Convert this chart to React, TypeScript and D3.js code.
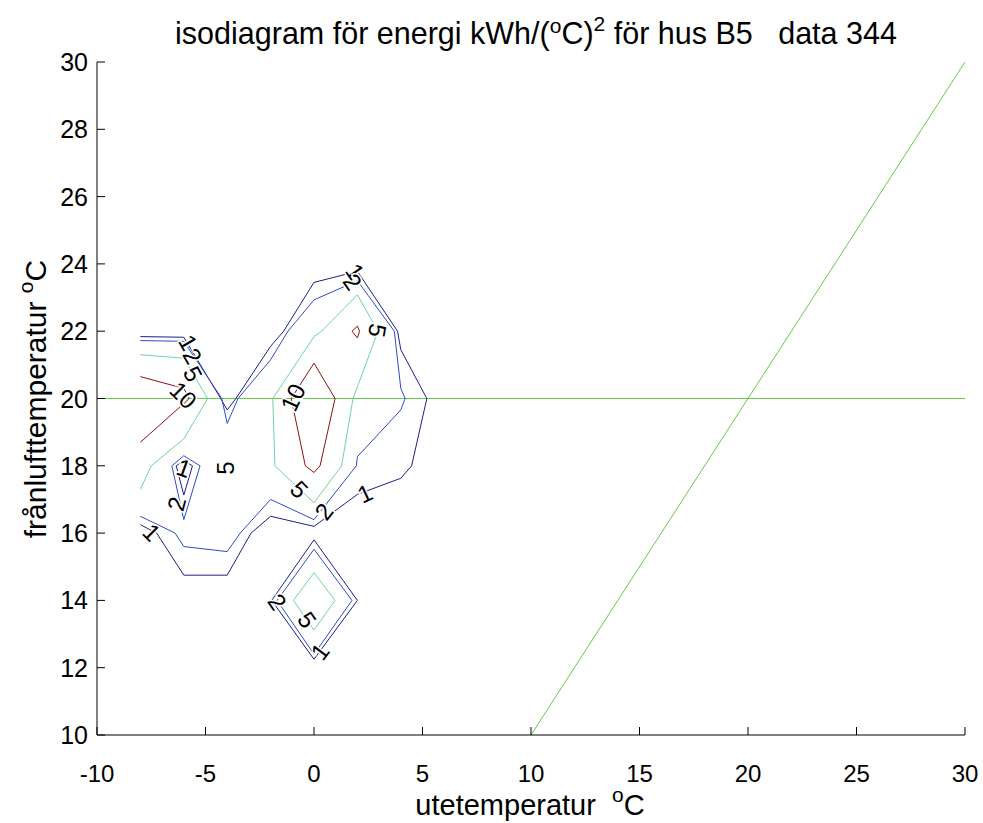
import React from "react";
import * as d3 from "d3";

const W = 983;
const H = 823;

type P = [number, number];

const xTicks = [-10, -5, 0, 5, 10, 15, 20, 25, 30];
const yTicks = [10, 12, 14, 16, 18, 20, 22, 24, 26, 28, 30];

const levels = [1, 2, 5, 10];
const levelColors = ["#1e1e88", "#2c4cc4", "#6fd3a0", "#8c1010"];

// level 1 contours
const level1Main: P[] = [
  [-8, 21.84], [-6, 21.82], [-4.3, 20], [-4, 19.66], [-3.6, 20], [-2, 21.55], [-1.4, 22],
  [0, 23.45], [2, 23.78], [3.85, 22], [4, 21.45], [5.2, 20], [4.5, 18], [4, 17.63],
  [2, 17.15], [0, 16.2], [-2, 16.5], [-2.9, 16], [-4, 14.75], [-6, 14.75], [-7.25, 16], [-8, 16.25],
];
const level1SmallLeft: P[] = [[-6, 18.15], [-5.6, 18], [-6, 17.13], [-6.35, 18], [-6, 18.15]];
const level1Bottom: P[] = [[0, 15.8], [2, 14], [0, 12.25], [-1.95, 14], [0, 15.8]];

// level 2 contours
const level2Main: P[] = [
  [-8, 21.72], [-6, 21.7], [-4.25, 20], [-4, 19.26], [-3.5, 20], [-2, 21.15], [-1.2, 22],
  [0, 22.93], [2, 23.5], [3.7, 22], [4, 20.3], [4.2, 20], [4, 19.66], [2, 18.27], [1.95, 18],
  [0, 16.4], [-2, 17], [-3.4, 16], [-4, 15.45], [-6, 15.6], [-6.4, 16], [-8, 16.5],
];
const level2SmallLeft: P[] = [[-6, 18.3], [-5.25, 18], [-6, 16.4], [-6.55, 18], [-6, 18.3]];
const level2Bottom: P[] = [[0, 15.52], [1.75, 14], [0, 12.4], [-1.7, 14], [0, 15.52]];

// level 5 contours
const level5Left: P[] = [[-8, 21.3], [-6, 21.2], [-4.9, 20], [-6, 18.8], [-7.5, 18], [-8, 17.3]];
const level5Center: P[] = [
  [-1.9, 20], [0, 21.84], [0.35, 22], [2, 23.08], [2.95, 22], [2, 20.35], [1.8, 20],
  [1.27, 18], [0, 16.9], [-1.8, 18], [-1.9, 20],
];
const level5Tiny: P[] = [[-3.95, 17.8], [-3.75, 17.95]];
const level5Bottom: P[] = [[0, 14.82], [0.97, 14], [0, 13.12], [-0.95, 14], [0, 14.82]];

// level 10 contours
const level10Left: P[] = [[-8, 20.65], [-6, 20.3], [-5.75, 20], [-6, 19.85], [-8, 18.7]];
const level10Center: P[] = [[0, 21.05], [-1.05, 20], [-0.4, 18], [0, 17.8], [0.28, 18], [0.97, 20], [0, 21.05]];
const level10Small: P[] = [[1.75, 22], [2, 22.15], [2.1, 22], [2, 21.8], [1.75, 22]];

const contourLines: { level: number; pts: P[] }[] = [
  { level: 1, pts: level1Main },
  { level: 1, pts: level1SmallLeft },
  { level: 1, pts: level1Bottom },
  { level: 2, pts: level2Main },
  { level: 2, pts: level2SmallLeft },
  { level: 2, pts: level2Bottom },
  { level: 5, pts: level5Left },
  { level: 5, pts: level5Center },
  { level: 5, pts: level5Tiny },
  { level: 5, pts: level5Bottom },
  { level: 10, pts: level10Left },
  { level: 10, pts: level10Center },
  { level: 10, pts: level10Small },
];

// contour labels: text, data x, data y, rotation (deg)
const labelTexts = ["1", "2", "5", "10", "1", "2", "5", "10", "5", "2", "1", "1", "1", "2", "5", "2", "5", "1"];
const labelX = [-5.8, -5.6, -5.58, -6.02, 1.89, 1.78, 2.92, -0.97, -0.68, 0.46, 2.35, -7.48, -5.99, -6.33, -4.1, -1.69, -0.32, 0.28];
const labelY = [21.66, 21.26, 20.73, 20.1, 23.77, 23.47, 22.02, 20.03, 17.3, 16.64, 17.18, 16.02, 17.93, 16.87, 17.93, 13.96, 13.42, 12.48];
const labelRot = [60, 60, 62, 45, 55, 55, 100, -65, 45, -52, -25, 45, 20, -75, -90, 55, 55, -53];

const refHorizontal: P[] = [[-10, 20], [30, 20]];
const refDiagonal: P[] = [[10, 10], [30, 30]];

const FONT = "'Liberation Sans', Arial, Helvetica, sans-serif";

export default function App() {
  const x = d3.scaleLinear().domain([-10, 30]).range([97, 965]);
  const y = d3.scaleLinear().domain([10, 30]).range([735, 62]);
  const line = d3.line<P>().x((d) => x(d[0])).y((d) => y(d[1]));
  const colorOf = (lv: number) => levelColors[levels.indexOf(lv)];
  const tickLen = 8;

  return (
    <svg
      width={W}
      height={H}
      style={{ position: "fixed", left: 0, top: 0, background: "#fff" }}
      fontFamily={FONT}
    >
      <rect x={0} y={0} width={W} height={H} fill="#fff" />
      {/* reference lines */}
      <path d={line(refHorizontal) || ""} stroke="#66c84a" strokeWidth={1} fill="none" />
      <path d={line(refDiagonal) || ""} stroke="#66c84a" strokeWidth={1} fill="none" />
      {/* contours */}
      {contourLines.map((c, i) => (
        <path key={i} d={line(c.pts) || ""} stroke={colorOf(c.level)} strokeWidth={1} fill="none" strokeLinejoin="miter" />
      ))}
      {/* contour labels */}
      {labelTexts.map((t, i) => (
        <text
          key={i}
          transform={`translate(${x(labelX[i])},${y(labelY[i])}) rotate(${labelRot[i]})`}
          textAnchor="middle"
          dominantBaseline="central"
          fontSize={24}
          fill="#000"
          stroke="#fff"
          strokeWidth={3}
          paintOrder="stroke"
        >
          {t}
        </text>
      ))}
      {/* axes */}
      <line x1={97} y1={735} x2={965} y2={735} stroke="#000" strokeWidth={1} />
      <line x1={97} y1={62} x2={97} y2={735} stroke="#000" strokeWidth={1} />
      {xTicks.map((t) => (
        <g key={"x" + t}>
          <line x1={x(t)} x2={x(t)} y1={735} y2={735 - tickLen} stroke="#000" strokeWidth={1} />
          <text x={x(t)} y={782} textAnchor="middle" fontSize={24} fill="#000">
            {t}
          </text>
        </g>
      ))}
      {yTicks.map((t) => (
        <g key={"y" + t}>
          <line x1={97} x2={97 + tickLen} y1={y(t)} y2={y(t)} stroke="#000" strokeWidth={1} />
          <text x={88} y={y(t) + 9} textAnchor="end" fontSize={25} fill="#000">
            {t}
          </text>
        </g>
      ))}
      {/* title */}
      <text x={536} y={44} textAnchor="middle" fontSize={30.5} fill="#000" style={{ whiteSpace: "pre" }}>
        isodiagram för energi kWh/(
        <tspan dy={-11} fontSize={21}>o</tspan>
        <tspan dy={11}>C)</tspan>
        <tspan dy={-13} fontSize={21}>2</tspan>
        <tspan dy={13}>{" för hus B5   data 344"}</tspan>
      </text>
      {/* x label */}
      <text x={530} y={815} textAnchor="middle" fontSize={29} fill="#000" style={{ whiteSpace: "pre" }}>
        {"utetemperatur  "}
        <tspan dy={-13} fontSize={21}>o</tspan>
        <tspan dy={13}>C</tspan>
      </text>
      {/* y label */}
      <text transform="translate(46,399) rotate(-90)" textAnchor="middle" fontSize={30} fill="#000" style={{ whiteSpace: "pre" }}>
        {"frånlufttemperatur "}
        <tspan dy={-13} fontSize={21}>o</tspan>
        <tspan dy={13}>C</tspan>
      </text>
    </svg>
  );
}
